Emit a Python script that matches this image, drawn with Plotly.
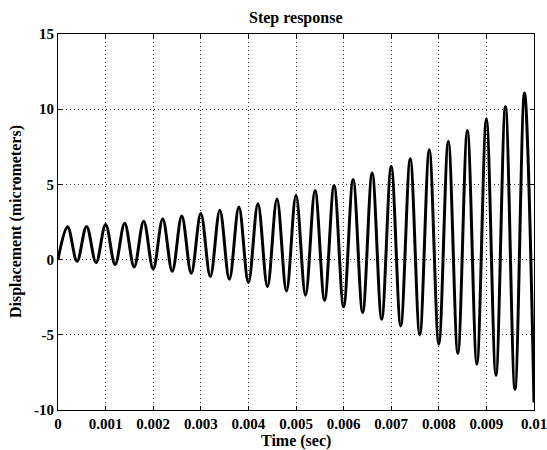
import plotly.graph_objects as go

# Extrema of the step response (time in s, displacement in micrometers)
t_points = [0.0,
            0.0002, 0.0004, 0.0006, 0.0008, 0.0010, 0.0012, 0.0014, 0.0016, 0.0018, 0.0020,
            0.0022, 0.0024, 0.0026, 0.0028, 0.0030, 0.0032, 0.0034, 0.0036, 0.0038, 0.0040,
            0.0042, 0.0044, 0.0046, 0.0048, 0.0050, 0.0052, 0.0054, 0.0056, 0.0058, 0.0060,
            0.0062, 0.0064, 0.0066, 0.0068, 0.0070, 0.0072, 0.0074, 0.0076, 0.0078, 0.0080,
            0.0082, 0.0084, 0.0086, 0.0088, 0.0090, 0.0092, 0.0094, 0.0096, 0.0098, 0.0100]
y_points = [0.0,
            2.19, -0.11, 2.20, -0.20, 2.33, -0.33, 2.41, -0.49, 2.55, -0.64,
            2.70, -0.78, 2.90, -0.91, 3.06, -1.13, 3.28, -1.31, 3.50, -1.53,
            3.72, -1.80, 4.03, -2.09, 4.28, -2.37, 4.59, -2.70, 4.92, -3.13,
            5.32, -3.52, 5.76, -3.97, 6.20, -4.41, 6.71, -5.01, 7.31, -5.63,
            7.87, -6.25, 8.60, -6.96, 9.37, -7.69, 10.17, -8.62, 11.08, -9.50]

x_tickvals = [0, 0.001, 0.002, 0.003, 0.004, 0.005, 0.006, 0.007, 0.008, 0.009, 0.01]
x_ticktext = ["0", "0.001", "0.002", "0.003", "0.004", "0.005", "0.006", "0.007", "0.008", "0.009", "0.01"]
y_tickvals = [-10, -5, 0, 5, 10, 15]
y_ticktext = ["-10", "-5", "0", "5", "10", "15"]

FONT = "Liberation Serif"
TXT = dict(family=FONT, size=16, color="black")

fig = go.Figure()
fig.add_trace(go.Scatter(
    x=t_points, y=y_points, mode="lines",
    line=dict(color="black", width=3, shape="spline", smoothing=1.0),
    showlegend=False, hoverinfo="skip"))

axis_common = dict(
    showline=True, linecolor="black", linewidth=1, mirror="ticks",
    ticks="inside", ticklen=4, tickcolor="black",
    showgrid=True, gridcolor="#333333", gridwidth=1, griddash="1px,3px",
    zeroline=False, automargin=False, ticklabeloverflow="allow",
    tickfont=dict(family=FONT, size=15, color="black", weight="bold"),
)

fig.update_layout(
    width=547, height=450,
    margin=dict(l=58, r=13, t=34, b=40),
    paper_bgcolor="white", plot_bgcolor="white",
    xaxis=dict(range=[0, 0.01], tickvals=x_tickvals, ticktext=x_ticktext, **axis_common),
    yaxis=dict(range=[-10, 15], tickvals=y_tickvals, ticktext=y_ticktext, **axis_common),
    annotations=[
        dict(text="<b>Step response</b>", xref="paper", yref="paper",
             x=0.5, y=1 + 16 / 376, xanchor="center", yanchor="middle",
             showarrow=False, font=TXT),
        dict(text="<b>Time (sec)</b>", xref="paper", yref="paper",
             x=0.5, y=-31 / 376, xanchor="center", yanchor="middle",
             showarrow=False, font=TXT),
        dict(text="<b>Displacement (micrometers)</b>", xref="paper", yref="paper",
             x=-42 / 476, y=0.5, xanchor="center", yanchor="middle", textangle=-90,
             showarrow=False, font=TXT),
    ],
)

fig.write_html(
    "out.html",
    config={"displayModeBar": False, "staticPlot": True},
    post_script="document.body.style.margin='0';document.body.style.overflow='hidden';",
)
